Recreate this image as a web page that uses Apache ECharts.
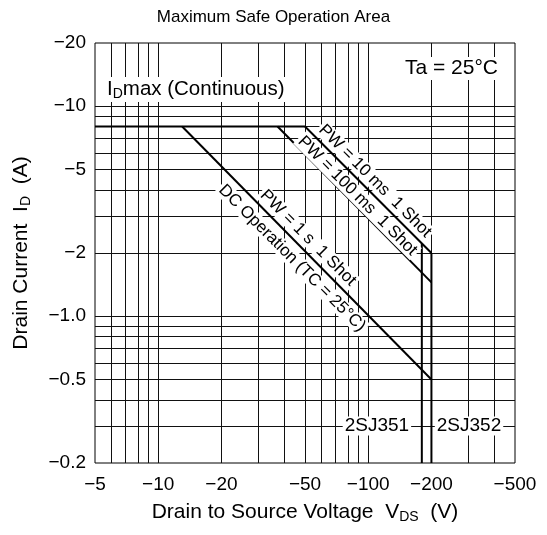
<!DOCTYPE html>
<html><head><meta charset="utf-8">
<script src="https://cdn.jsdelivr.net/npm/echarts@6/dist/echarts.min.js"></script>
<style>html,body{margin:0;padding:0;background:#fff}#c{width:547px;height:535px}</style>
</head><body><div id="c"></div>
<script>
// ---- data (absolute values; drawn on log-log scale, labels shown negative) ----
const xTickValues = [5, 10, 20, 50, 100, 200, 500];
const xTickLabels = ['\u22125', '\u221210', '\u221220', '\u221250', '\u2212100', '\u2212200', '\u2212500'];
const yTickValues = [0.2, 0.5, 1, 2, 5, 10, 20];
const yTickLabels = ['\u22120.2', '\u22120.5', '\u22121.0', '\u22122', '\u22125', '\u221210', '\u221220'];
const xGridValues = [6, 7, 8, 9, 10, 20, 30, 40, 50, 60, 70, 80, 90, 100, 200, 300, 400];
const yGridValues = [0.3, 0.4, 0.5, 0.6, 0.7, 0.8, 0.9, 1, 2, 3, 4, 5, 6, 7, 8, 9, 10];

const idMaxLine = [[5, 8], [50, 8]];
const dcLine = [[13, 8], [200, 0.5]];
const pw100msLine = [[37, 8], [200, 1.45]];
const pw10msLine = [[50, 8], [200, 2]];
const limit351 = [[180, 2.22], [180, 0.2]];
const limit352 = [[200, 2], [200, 0.2]];

const noteTexts = ['PW = 10 ms  1 Shot', 'PW = 100 ms  1 Shot', 'PW = 1 s  1 Shot', 'DC Operation (TC = 25\u00b0C)', '2SJ351', '2SJ352'];
const noteAnchors = [[107.7, 4.4], [88.9, 3.74], [51.7, 2.36], [43.4, 1.89], [110, 0.3], [302, 0.3]];
const noteAngles = [-45, -45, -45, -45, 0, 0];

// ---- chart ----
const L = Math.log10;
const FONT = '"Liberation Sans", Arial, Helvetica, sans-serif';
function fmt(values, labels) {
  return function (val) {
    for (let k = 0; k < values.length; k++) if (Math.abs(L(values[k]) - val) < 1e-6) return labels[k];
    return '';
  };
}
const toLog = arr => arr.map(p => [L(p[0]), L(p[1])]);
const lineSeries = data => ({
  type: 'line', data: toLog(data), symbol: 'none', silent: true, z: 3,
  lineStyle: { color: '#000', width: 2 }, animation: false
});
const subRich = (big, small, pad) => ({
  a: { fontSize: big, fontFamily: FONT, color: '#000' },
  s: { fontSize: small, fontFamily: FONT, color: '#000', padding: [pad, 0, 0, 0] }
});

const chart = echarts.init(document.getElementById('c'), null, { renderer: 'canvas' });
chart.setOption({
  animation: false,
  backgroundColor: '#fff',
  title: {
    text: 'Maximum Safe Operation Area', left: 'center', top: 4,
    textStyle: { fontSize: 17, fontWeight: 'normal', color: '#000', fontFamily: FONT }
  },
  grid: { left: 95, right: 32, top: 43, bottom: 72, show: true, borderColor: '#000', borderWidth: 1, containLabel: false },
  xAxis: {
    type: 'value', min: L(5), max: L(500),
    axisLine: { show: false },
    axisTick: { show: false, customValues: xGridValues.map(L) },
    splitLine: { show: true, lineStyle: { color: '#111', width: 1 } },
    axisLabel: {
      customValues: xTickValues.map(L), formatter: fmt(xTickValues, xTickLabels),
      fontSize: 19, color: '#000', fontFamily: FONT, margin: 12, showMinLabel: true, showMaxLabel: true, hideOverlap: false
    },
    name: '{a|Drain to Source Voltage  V}{s|DS}{a|  (V)}', nameLocation: 'middle', nameGap: 38,
    nameTextStyle: { rich: subRich(21, 14, 9) }
  },
  yAxis: {
    type: 'value', min: L(0.2), max: L(20),
    axisLine: { show: false },
    axisTick: { show: false, customValues: yGridValues.map(L) },
    splitLine: { show: true, lineStyle: { color: '#111', width: 1 } },
    axisLabel: {
      customValues: yTickValues.map(L), formatter: fmt(yTickValues, yTickLabels),
      fontSize: 19, color: '#000', fontFamily: FONT, margin: 9, showMinLabel: true, showMaxLabel: true, hideOverlap: false
    },
    name: '{a|Drain Current  I}{s|D}{a|  (A)}', nameLocation: 'middle', nameGap: 62, nameRotate: 90,
    nameTextStyle: { rich: subRich(21, 14, 9) }
  },
  graphic: [
    { type: 'text', left: 105, top: 77, z: 10,
      style: { text: '{a|I}{s|D}{a|max (Continuous)}', rich: subRich(20.5, 14, 9), backgroundColor: '#fff', padding: [1, 2] } },
    { type: 'text', right: 47, top: 57, z: 10,
      style: { text: 'Ta = 25\u00b0C', fontSize: 21, fontFamily: FONT, fill: '#000', backgroundColor: '#fff', padding: [1, 2] } }
  ],
  series: [
    lineSeries(idMaxLine), lineSeries(dcLine), lineSeries(pw100msLine), lineSeries(pw10msLine),
    lineSeries(limit351), lineSeries(limit352),
    {
      type: 'scatter', silent: true, z: 5, symbolSize: 0.1, itemStyle: { color: 'rgba(0,0,0,0)' },
      data: noteAnchors.map((p, k) => ({
        value: [L(p[0]), L(p[1])],
        label: { formatter: noteTexts[k], rotate: noteAngles[k], fontSize: noteAngles[k] === 0 ? 19 : 17 }
      })),
      label: {
        show: true, position: 'inside', fontSize: 17, fontFamily: FONT, color: '#000',
        textBorderWidth: 0, opacity: 1, backgroundColor: '#fff', padding: [0, 2]
      }
    }
  ]
});
</script></body></html>
